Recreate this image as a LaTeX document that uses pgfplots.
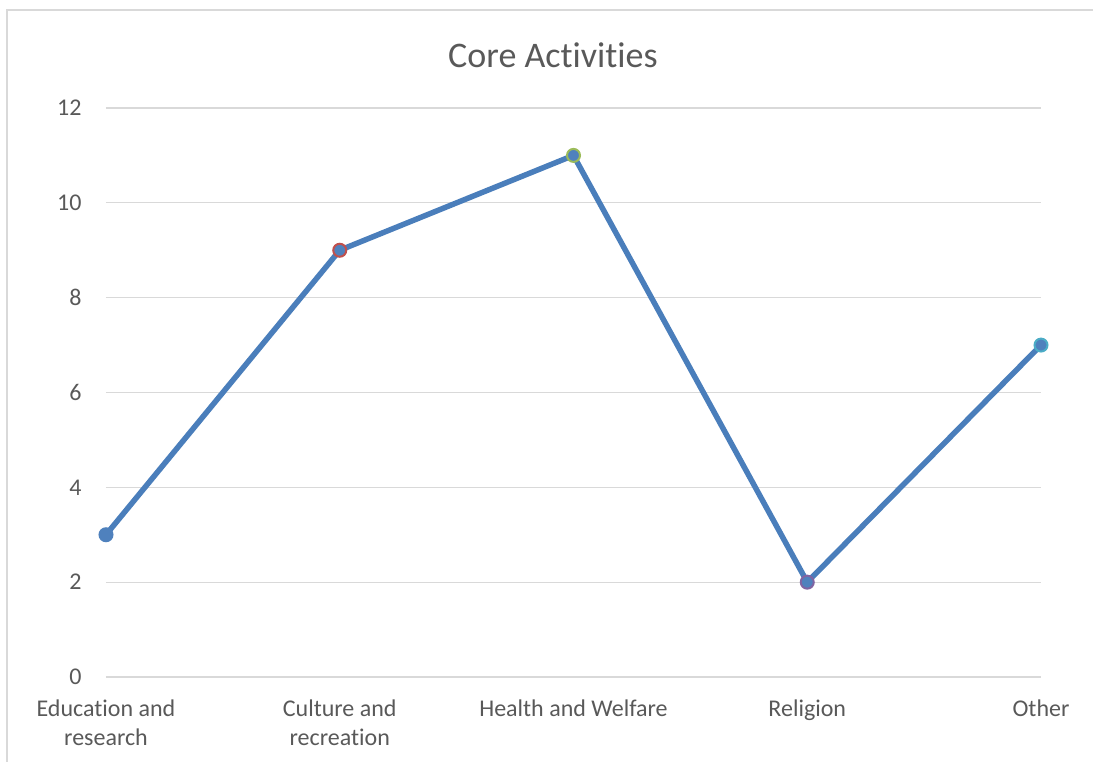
\documentclass[border=0pt]{standalone}
\usepackage{pgfplots}
\pgfplotsset{compat=1.18}
\usepackage{fontspec}
\setmainfont[RawFeature=-liga]{Carlito}
\definecolor{txt}{HTML}{595959}
\definecolor{gridgray}{HTML}{D9D9D9}
\definecolor{lineblue}{HTML}{4A7EBB}
\definecolor{mblue}{HTML}{4F81BD}
\definecolor{mred}{HTML}{C0504D}
\definecolor{mgreen}{HTML}{9BBB59}
\definecolor{mpurple}{HTML}{8064A2}
\definecolor{maqua}{HTML}{4BACC6}
\begin{document}
\begin{tikzpicture}[x=1pt,y=1pt]
\useasboundingbox (0,0) rectangle (1093,762);
\draw[gridgray,line width=2pt] (7,-5) -- (7,752) -- (1100,752);
\node[txt,font=\fontsize{36}{42}\selectfont] at (553,707) {Core Activities};
\begin{axis}[
  at={(106pt,85pt)}, anchor=south west,
  scale only axis, width=935pt, height=569pt,
  xmin=0, xmax=4, ymin=0, ymax=12,
  axis line style={draw=none},
  clip=false,
  ytick={0,2,...,12},
  xtick={0,1,2,3,4},
  xticklabels={{Education and\\research},{Culture and\\recreation},{Health and Welfare},{Religion},{Other}},
  ymajorgrids=true, xmajorgrids=false,
  major grid style={draw=gridgray,line width=1.3pt},
  major tick length=0pt,
  tick label style={txt,font=\fontsize{24}{29}\selectfont},
  xticklabel style={align=center,yshift=-19pt},
  yticklabel style={xshift=-21pt},
  /pgf/number format/assume math mode=true,
]
\addplot[lineblue,line width=5.5pt,no marks] coordinates {(0,3) (1,9) (2,11) (3,2) (4,7)};
\addplot[only marks,mark=*,mark size=6.5pt,mark options={fill=mblue,draw=mblue,line width=2pt}] coordinates {(0,3)};
\addplot[only marks,mark=*,mark size=6.5pt,mark options={fill=mblue,draw=mred,line width=2pt}] coordinates {(1,9)};
\addplot[only marks,mark=*,mark size=6.5pt,mark options={fill=mblue,draw=mgreen,line width=2pt}] coordinates {(2,11)};
\addplot[only marks,mark=*,mark size=6.5pt,mark options={fill=mblue,draw=mpurple,line width=2pt}] coordinates {(3,2)};
\addplot[only marks,mark=*,mark size=6.5pt,mark options={fill=mblue,draw=maqua,line width=2pt}] coordinates {(4,7)};
\end{axis}
\end{tikzpicture}
\end{document}
